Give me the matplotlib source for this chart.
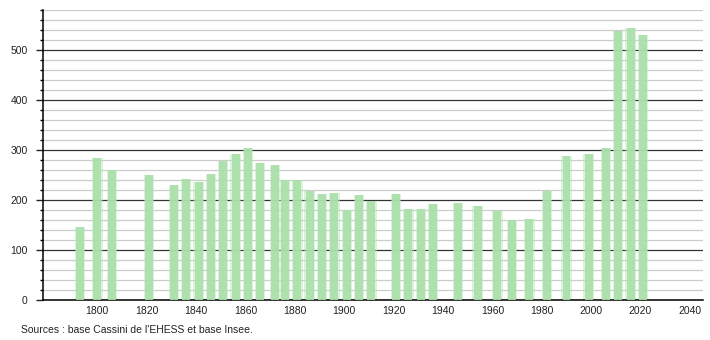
import matplotlib
matplotlib.use("Agg")
import matplotlib.pyplot as plt
from matplotlib.ticker import MultipleLocator

# census years and population
years = [1793, 1800, 1806, 1821, 1831, 1836, 1841, 1846, 1851, 1856,
         1861, 1866, 1872, 1876, 1881, 1886, 1891, 1896, 1901, 1906,
         1911, 1921, 1926, 1931, 1936, 1946, 1954, 1962, 1968, 1975,
         1982, 1990, 1999, 2006, 2011, 2016, 2021]
population = [147, 285, 261, 250, 230, 242, 236, 252, 279, 292,
              305, 275, 270, 240, 240, 219, 212, 215, 181, 210,
              198, 212, 183, 183, 193, 195, 188, 179, 160, 163,
              219, 289, 293, 305, 539, 544, 530]
x_ticks = [1800, 1820, 1840, 1860, 1880, 1900, 1920, 1940, 1960, 1980, 2000, 2020, 2040]
source_text = "Sources : base Cassini de l'EHESS et base Insee."

plt.rcParams['font.family'] = ['Liberation Sans', 'DejaVu Sans']

fig = plt.figure(figsize=(7.1, 3.4), dpi=100)
ax = fig.add_axes([43 / 710, 40 / 340, 660 / 710, 290 / 340])

# soft halo then solid bar, to mimic the blurred edges
ax.bar(years, population, width=4.2, color='#b8e8b8', alpha=0.5, zorder=2)
ax.bar(years, population, width=3.2, color='#a9e0a9', alpha=0.9, zorder=3)

ax.set_xlim(1778, 2045.3)
ax.set_ylim(0, 580)

ax.yaxis.set_major_locator(MultipleLocator(100))
ax.yaxis.set_minor_locator(MultipleLocator(20))
ax.grid(which='minor', axis='y', color='#cccccc', linewidth=0.9, zorder=0)
ax.grid(which='major', axis='y', color='#333333', linewidth=0.9, zorder=1)
ax.set_axisbelow(True)

ax.set_xticks(x_ticks)
ax.tick_params(axis='x', length=0, pad=4, labelsize=7.5, colors='#222222')
ax.tick_params(axis='y', which='major', length=5, width=1, pad=6, labelsize=7.5, colors='#222222')
ax.tick_params(axis='y', which='minor', length=2.5, width=1)

for side in ['top', 'right']:
    ax.spines[side].set_visible(False)
ax.spines['left'].set_linewidth(1.1)
ax.spines['bottom'].set_linewidth(1.1)

fig.text(21 / 710, 1 - 330 / 340, source_text, fontsize=7.5, color='#222222', va='center')

fig.savefig("out.png", dpi=100)
